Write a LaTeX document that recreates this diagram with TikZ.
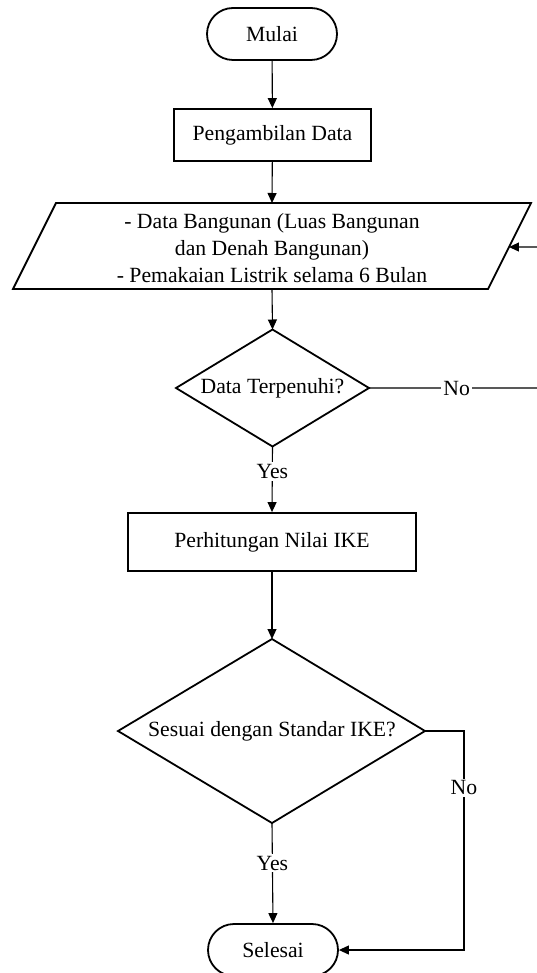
\documentclass[tikz,border=0pt]{standalone}
\usepackage{fontspec}
\setmainfont{Liberation Serif}
\usetikzlibrary{arrows.meta,calc}
\begin{document}
\begin{tikzpicture}[x=1pt,y=-1pt,
  font=\fontsize{21.7}{27}\selectfont,
  shapeline/.style={draw,line width=1.8pt,line join=miter},
  terminal/.style={shapeline,rectangle,rounded corners=26pt,minimum width=130pt,minimum height=52pt,inner sep=0pt},
  process/.style={shapeline,rectangle,inner sep=0pt},
  flow/.style={line width=1.1pt,-{Triangle[length=10pt,width=9pt]}},
  lbl/.style={fill=white,inner sep=2pt}]
\useasboundingbox (0,0) rectangle (537,973);

% start
\node[terminal] (mulai) at (272,34) {Mulai};

% data collection
\node[process,minimum width=197pt,minimum height=52pt] (ambil) at (272.5,135) {Pengambilan Data};

% input parallelogram
\coordinate (pTL) at (56,203);
\coordinate (pTR) at (531,203);
\coordinate (pBR) at (488,289);
\coordinate (pBL) at (13,289);
\draw[shapeline] (pTL) -- (pTR) -- (pBR) -- (pBL) -- cycle;
\node[align=center] (input) at (272,248)
  {- Data Bangunan (Luas Bangunan\\dan Denah Bangunan)\\- Pemakaian Listrik selama 6 Bulan};
\coordinate (inTop) at (272,203);
\coordinate (inBot) at (272,289);
\coordinate (inRight) at ($(pTR)!0.512!(pBR)$);

% first decision
\coordinate (cekN) at (272.5,329.5);
\coordinate (cekE) at (369,388);
\coordinate (cekS) at (272.5,446.5);
\coordinate (cekW) at (176,388);
\draw[shapeline] (cekN) -- (cekE) -- (cekS) -- (cekW) -- cycle;
\node (cek) at (272.5,388) {Data Terpenuhi?};

% IKE calculation
\node[process,minimum width=288pt,minimum height=58pt] (hitung) at (272,542) {Perhitungan Nilai IKE};

% second decision
\coordinate (stdN) at (272,639);
\coordinate (stdE) at (425,731);
\coordinate (stdS) at (272,823);
\coordinate (stdW) at (118,731);
\draw[shapeline] (stdN) -- (stdE) -- (stdS) -- (stdW) -- cycle;
\node (standar) at (272,731) {Sesuai dengan Standar IKE?};

% end
\node[terminal] (selesai) at (273,950) {Selesai};

% return path coordinates
\coordinate (backA) at (541,388);
\coordinate (backB) at (541,247);
\coordinate (noC) at (464,731);
\coordinate (noD) at (464,950);

% connectors
\draw[flow] (mulai) -- (ambil);
\draw[flow] (ambil) -- (inTop);
\draw[flow] (inBot) -- (cekN);
\draw[flow] (cekE) -- node[lbl,pos=0.51]{No} (backA) -- (backB) -- (inRight);
\draw[flow] (cekS) -- node[lbl,pos=0.38]{Yes} (hitung.north);
\draw[flow] (hitung) -- (stdN);
\draw[flow] (stdS) -- node[lbl,pos=0.4]{Yes} (selesai.north);
\draw[flow] (stdE) -- (noC) -- node[lbl,pos=0.26]{No} (noD) -- (selesai.east);
\end{tikzpicture}
\end{document}
